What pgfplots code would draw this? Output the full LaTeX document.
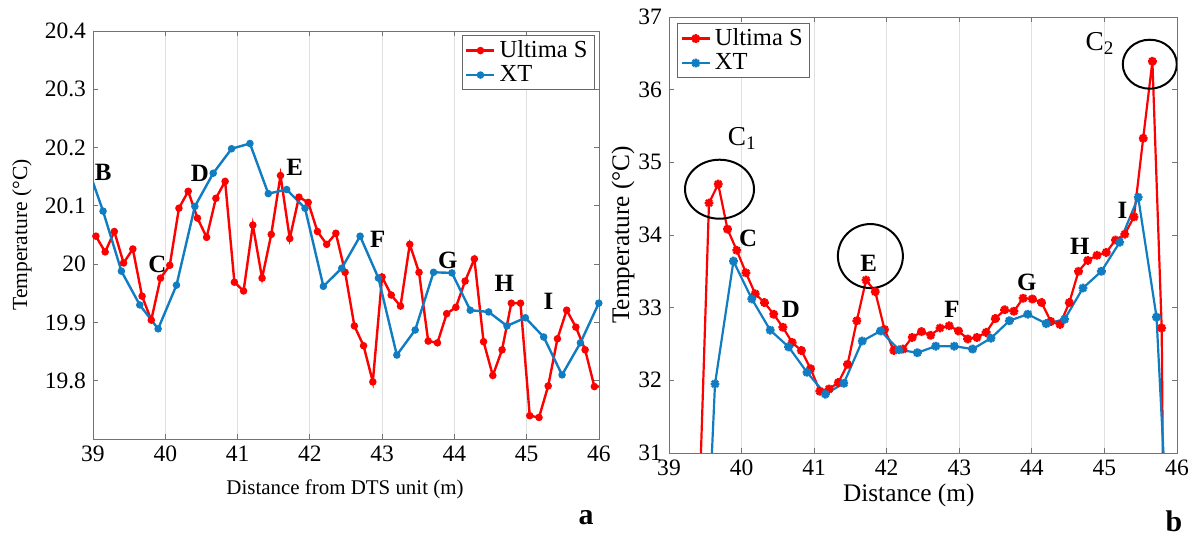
\documentclass[border=0pt]{standalone}
\usepackage{fontspec}
\setmainfont{Liberation Serif}
\usepackage{pgfplots}
\pgfplotsset{compat=1.18}
\definecolor{ured}{RGB}{255,0,0}
\definecolor{xtblue}{RGB}{16,124,194}
\pgfdeclareplotmark{mstar}{%
  \pgfpathmoveto{\pgfqpoint{-\pgfplotmarksize}{0pt}}\pgfpathlineto{\pgfqpoint{\pgfplotmarksize}{0pt}}%
  \pgfpathmoveto{\pgfqpoint{0pt}{-\pgfplotmarksize}}\pgfpathlineto{\pgfqpoint{0pt}{\pgfplotmarksize}}%
  \pgfpathmoveto{\pgfqpoint{-0.707\pgfplotmarksize}{-0.707\pgfplotmarksize}}\pgfpathlineto{\pgfqpoint{0.707\pgfplotmarksize}{0.707\pgfplotmarksize}}%
  \pgfpathmoveto{\pgfqpoint{-0.707\pgfplotmarksize}{0.707\pgfplotmarksize}}\pgfpathlineto{\pgfqpoint{0.707\pgfplotmarksize}{-0.707\pgfplotmarksize}}%
  \pgfusepathqstroke}
\tikzset{lab/.style={font=\bfseries\fontsize{12.5}{13}\selectfont}}
\pgfplotsset{
  myaxis/.style={
    scale only axis,
    axis line style={black!55},
    every tick/.style={black!55},
    major tick length=2.5bp,
    xmajorgrids,
    grid style={black!12, line width=0.4pt},
    /pgf/number format/assume math mode=true,
    tick label style={font=\rmfamily\fontsize{11.8}{12}\selectfont},
    xmin=39, xmax=46,
    xtick={39,40,41,42,43,44,45,46},
    legend cell align=left,
    legend image code/.code={\draw[mark repeat=2,mark phase=2,##1] plot coordinates {(0bp,0bp)(7bp,0bp)(14bp,0bp)};},
  },
}
\begin{document}
\begin{tikzpicture}
\useasboundingbox (0,0) rectangle (598.5bp,268.5bp);
% ---------------- panel a ----------------
\begin{axis}[myaxis,
  at={(46.5bp,49bp)}, anchor=south west,
  width=253bp, height=204bp,
  ymin=19.7, ymax=20.4,
  ytick={19.8,19.9,20,20.1,20.2,20.3,20.4},
  yticklabels={19.8,19.9,20,20.1,20.2,20.3,20.4},
  xlabel={Distance from DTS unit (m)},
  ylabel={Temperature (°C)},
  xlabel style={at={(axis description cs:0.498,-0.1225)}, anchor=center, font=\rmfamily\fontsize{10.5}{12}\selectfont},
  ylabel style={at={(axis description cs:-0.1403,0.5)}, anchor=center, rotate=0, font=\rmfamily\fontsize{10.8}{12}\selectfont},
  legend style={at={(0.992,0.99)}, anchor=north east, draw=black!60, line width=0.5pt,
    font=\rmfamily\fontsize{12.3}{14.5}\selectfont, inner xsep=1.5bp, inner ysep=0.5bp, row sep=-1.5bp},
]
\addplot[ured, line width=1.2bp, mark=*, mark size=1.25bp] coordinates {
(39.040,20.048) (39.168,20.021) (39.295,20.056) (39.423,20.002) (39.551,20.026)
(39.679,19.945) (39.806,19.904) (39.934,19.976) (40.062,19.998) (40.189,20.096)
(40.317,20.125) (40.445,20.079) (40.572,20.046) (40.700,20.113) (40.828,20.142)
(40.956,19.969) (41.083,19.954) (41.211,20.067) (41.339,19.976) (41.466,20.051)
(41.594,20.152) (41.722,20.044) (41.849,20.115) (41.977,20.106) (42.105,20.056)
(42.233,20.034) (42.360,20.053) (42.488,19.986) (42.616,19.894) (42.743,19.860)
(42.871,19.798) (42.999,19.978) (43.126,19.947) (43.254,19.928) (43.382,20.034)
(43.510,19.986) (43.637,19.868) (43.765,19.865) (43.893,19.915) (44.020,19.926)
(44.148,19.971) (44.276,20.009) (44.403,19.867) (44.531,19.809) (44.659,19.853)
(44.787,19.933) (44.914,19.933) (45.042,19.740) (45.170,19.737) (45.297,19.791)
(45.425,19.872) (45.553,19.921) (45.680,19.892) (45.808,19.853) (45.936,19.790)
(46.064,19.790)
};
\addlegendentry{Ultima S}
\addplot[xtblue, line width=1.2bp, mark=*, mark size=1.25bp] coordinates {
(38.885,20.181) (39.139,20.091) (39.393,19.988) (39.647,19.930) (39.901,19.889)
(40.155,19.964) (40.409,20.099) (40.663,20.156) (40.917,20.198) (41.171,20.207)
(41.425,20.121) (41.679,20.128) (41.933,20.096) (42.187,19.962) (42.441,19.993)
(42.695,20.048) (42.949,19.976) (43.203,19.844) (43.457,19.887) (43.711,19.986)
(43.965,19.985) (44.219,19.921) (44.473,19.918) (44.727,19.894) (44.981,19.908)
(45.235,19.875) (45.489,19.810) (45.743,19.865) (45.997,19.933)
};
\addlegendentry{XT}
\node[lab] at (axis cs:39.14,20.158) {B};
\node[lab] at (axis cs:39.89,20.000) {C};
\node[lab] at (axis cs:40.48,20.156) {D};
\node[lab] at (axis cs:41.79,20.166) {E};
\node[lab] at (axis cs:42.94,20.043) {F};
\node[lab] at (axis cs:43.91,20.007) {G};
\node[lab] at (axis cs:44.69,19.967) {H};
\node[lab] at (axis cs:45.30,19.937) {I};
\end{axis}
% ---------------- panel b ----------------
\begin{axis}[myaxis,
  at={(334.5bp,42bp)}, anchor=south west,
  width=254bp, height=218bp,
  ymin=31, ymax=37,
  ytick={31,32,33,34,35,36,37},
  xlabel={Distance (m)},
  ylabel={Temperature (°C)},
  xlabel style={at={(axis description cs:0.472,-0.0963)}, anchor=center, font=\rmfamily\fontsize{12.7}{14}\selectfont},
  ylabel style={at={(axis description cs:-0.0906,0.5)}, anchor=center, rotate=0, font=\rmfamily\fontsize{12.7}{14}\selectfont},
  legend style={at={(0.016,0.986)}, anchor=north west, draw=black!60, line width=0.5pt,
    font=\rmfamily\fontsize{12.3}{14.5}\selectfont, inner xsep=1.5bp, inner ysep=0.5bp, row sep=-1.5bp},
]
\addplot[ured, line width=1.1bp, mark=mstar, mark size=2.2bp, mark options={line width=1.2bp}] coordinates {
(39.424,30.50)
(39.551,34.44) (39.678,34.70) (39.806,34.08) (39.933,33.79) (40.060,33.48)
(40.188,33.19) (40.315,33.07) (40.442,32.91) (40.569,32.73) (40.697,32.52)
(40.824,32.41) (40.951,32.16) (41.079,31.85) (41.206,31.88) (41.333,31.97)
(41.461,32.22) (41.588,32.82) (41.715,33.38) (41.842,33.22) (41.970,32.70)
(42.097,32.41) (42.224,32.43) (42.352,32.59) (42.479,32.67) (42.606,32.62)
(42.734,32.72) (42.861,32.75) (42.988,32.68) (43.115,32.57) (43.243,32.59)
(43.370,32.66) (43.497,32.85) (43.625,32.97) (43.752,32.95) (43.879,33.13)
(44.007,33.12) (44.134,33.07) (44.261,32.81) (44.388,32.77) (44.516,33.07)
(44.643,33.50) (44.770,33.65) (44.898,33.72) (45.025,33.76) (45.152,33.93)
(45.280,34.01) (45.407,34.25) (45.534,35.33) (45.661,36.39) (45.789,32.72)
(45.916,18.00)
};
\addlegendentry{Ultima S}
\addplot[xtblue, line width=1.1bp, mark=mstar, mark size=2.2bp, mark options={line width=1.2bp}] coordinates {
(39.380,26.30)
(39.634,31.95) (39.888,33.64) (40.141,33.12) (40.395,32.69) (40.648,32.46)
(40.902,32.11) (41.155,31.81) (41.409,31.96) (41.662,32.54) (41.916,32.68)
(42.169,32.42) (42.423,32.38) (42.676,32.47) (42.930,32.47) (43.183,32.43)
(43.437,32.58) (43.690,32.82) (43.944,32.91) (44.197,32.78) (44.451,32.84)
(44.704,33.27) (44.958,33.50) (45.211,33.90) (45.465,34.52) (45.718,32.87)
(45.972,27.90)
};
\addlegendentry{XT}
\node[lab] at (axis cs:40.09,33.95) {C};
\node[lab] at (axis cs:40.68,32.97) {D};
\node[lab] at (axis cs:41.75,33.61) {E};
\node[lab] at (axis cs:42.90,32.97) {F};
\node[lab] at (axis cs:43.93,33.35) {G};
\node[lab] at (axis cs:44.66,33.84) {H};
\node[lab] at (axis cs:45.25,34.34) {I};
\node[font=\rmfamily\fontsize{13.7}{14}\selectfont] at (axis cs:40.01,35.33) {C\textsubscript{1}};
\node[font=\rmfamily\fontsize{13.7}{14}\selectfont] at (axis cs:44.94,36.64) {C\textsubscript{2}};
\draw[black, line width=1bp] (axis cs:39.696,34.63) ellipse [x radius=17.25bp, y radius=14.75bp];
\draw[black, line width=1bp] (axis cs:41.775,33.71) ellipse [x radius=16.25bp, y radius=16bp];
\draw[black, line width=1bp] (axis cs:45.625,36.35) ellipse [x radius=13.5bp, y radius=12.25bp];
\end{axis}
\node[font=\bfseries\fontsize{15}{15}\selectfont, anchor=base] at (293bp,6.5bp) {a};
\node[font=\bfseries\fontsize{15}{15}\selectfont, anchor=base] at (587bp,3bp) {b};
\end{tikzpicture}
\end{document}
